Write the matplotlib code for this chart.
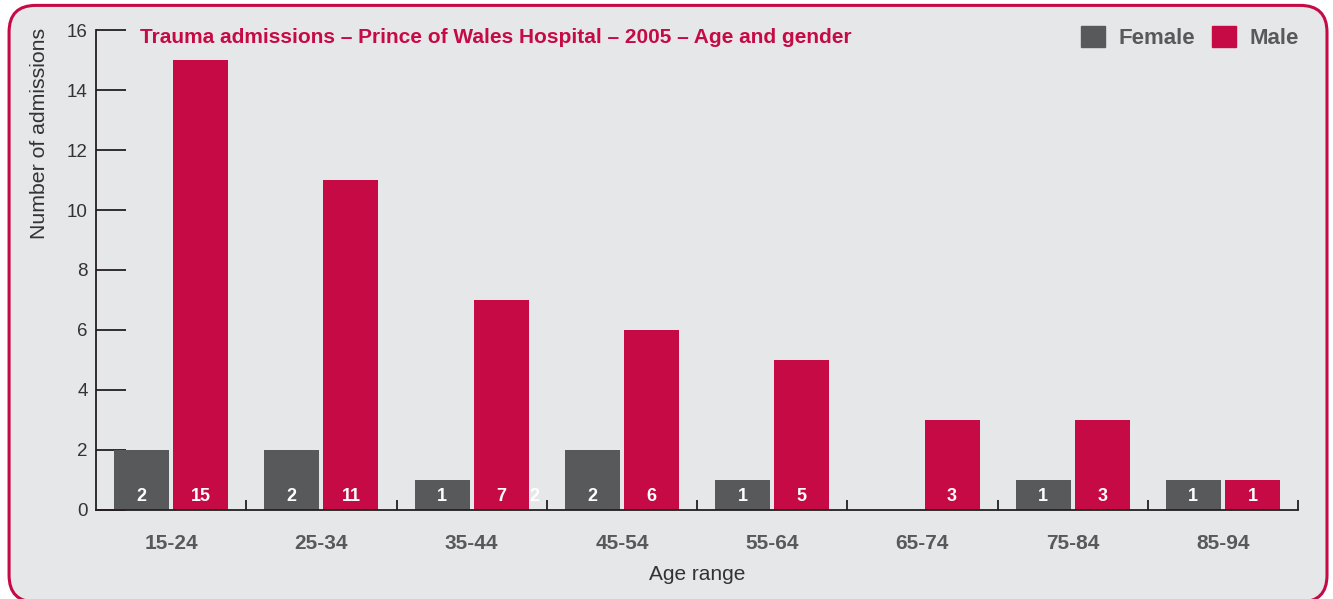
import matplotlib
matplotlib.use('Agg')
from matplotlib import pyplot as plt
from matplotlib.patches import FancyBboxPatch, Patch
import numpy as np

plt.rcParams['font.family'] = ['Liberation Sans', 'DejaVu Sans']

age_ranges = ['15-24', '25-34', '35-44', '45-54', '55-64', '65-74', '75-84', '85-94']
female = [2, 2, 1, 2, 1, 0, 1, 1]
male = [15, 11, 7, 6, 5, 3, 3, 1]

crimson = '#c60a45'
grey = '#58595b'
bg = '#e6e7e9'

fig = plt.figure(figsize=(13.33, 5.99), dpi=100)
fig.patch.set_facecolor('white')

# rounded panel behind everything
panel = FancyBboxPatch((0.0068, -0.005), 0.9887, 0.996,
                       boxstyle='round,pad=0,rounding_size=0.02',
                       transform=fig.transFigure, facecolor=bg,
                       edgecolor=crimson, linewidth=2.2,
                       mutation_aspect=1333 / 599, zorder=-5)
fig.patches.append(panel)

ax = fig.add_axes([0.0720, 0.1486, 0.9018, 0.8013])
ax.set_facecolor('none')

x = np.arange(len(age_ranges)) + 0.5
w = 0.366
off = 0.197
ax.bar(x - off, female, w, color=grey, label='Female', zorder=2)
ax.bar(x + off, male, w, color=crimson, label='Male', zorder=2)

for xi, f, m in zip(x, female, male):
    if f > 0:
        ax.text(xi - off, 0.45, str(f), color='white', ha='center', va='center',
                fontsize=13, fontweight='bold', zorder=3)
    ax.text(xi + off, 0.45, str(m), color='white', ha='center', va='center',
            fontsize=13, fontweight='bold', zorder=3)
# stray label in the original
ax.text(2.92, 0.45, '2', color='white', ha='center', va='center',
        fontsize=13, fontweight='bold', zorder=3)

ax.set_xlim(0, 8)
ax.set_ylim(0, 16)
ax.set_yticks(range(0, 17, 2))
ax.set_xticks(range(1, 9))
ax.set_xticklabels([])
ax.set_xticks(x, minor=True)
ax.set_xticklabels(age_ranges, minor=True, color=grey, fontsize=15, fontweight='bold')
ax.tick_params(axis='x', which='minor', length=0, pad=17)
ax.tick_params(axis='x', which='major', direction='in', length=7, width=1.3, color='#231f20')
ax.tick_params(axis='y', direction='in', length=21.5, width=1.3, color='#231f20',
               labelsize=13.5, labelcolor='#333333', pad=6)

for s in ['top', 'right']:
    ax.spines[s].set_visible(False)
for s in ['left', 'bottom']:
    ax.spines[s].set_color('#231f20')
    ax.spines[s].set_linewidth(1.3)

ax.set_xlabel('Age range', fontsize=15, color='#333333', labelpad=9)
ax.set_ylabel('Number of admissions', fontsize=15.3, color='#333333')
ax.yaxis.set_label_coords(-0.039, 0.785)

ax.text(0.037, 0.985, 'Trauma admissions \u2013 Prince of Wales Hospital \u2013 2005 \u2013 Age and gender',
        transform=ax.transAxes, color=crimson, fontsize=15, fontweight='bold',
        ha='left', va='center')

handles = [Patch(color=grey, label='Female'), Patch(color=crimson, label='Male')]
leg = ax.legend(handles=handles, ncol=2, frameon=False, loc='center right',
                bbox_to_anchor=(1.0135, 0.985), fontsize=16, labelcolor=grey,
                handlelength=1.1, handleheight=1.1, handletextpad=0.6,
                columnspacing=0.75, borderpad=0.2)
for t in leg.get_texts():
    t.set_fontweight('bold')

fig.savefig('out.png', dpi=100, facecolor='white')
